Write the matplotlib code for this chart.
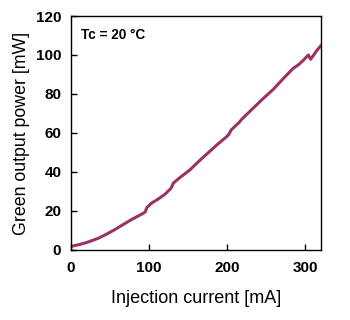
import matplotlib

matplotlib.rcParams['font.family'] = 'Liberation Sans'
matplotlib.rcParams['font.size'] = 10

import matplotlib.pyplot as plt

# values
current = [0, 10, 20, 35, 45, 56, 65, 78, 92.5, 95, 97, 103, 112, 120,
           128, 131, 140, 152, 165, 186.5, 199, 202, 205, 215, 218.5,
           244, 259, 272, 284.6, 291, 298, 303.8, 306.8, 309, 314.5, 320]
power = [1.8, 2.7, 3.8, 6.0, 8.0, 10.4, 12.6, 15.7, 18.8, 19.5, 21.7,
         24.0, 26.2, 28.5, 31.6, 34.3, 37.3, 41.0, 46.0, 53.8, 58.0,
         59.3, 61.5, 65.3, 67.0, 76.9, 82.4, 88.0, 93.2, 94.9, 97.5,
         100.0, 97.8, 99.0, 102.2, 104.8]

x_ticks = [0, 100, 200, 300]
y_ticks = [0, 20, 40, 60, 80, 100, 120]

fig = plt.figure(figsize=(3.5, 3.2), dpi=100)
ax = fig.add_axes([0.203, 0.219, 0.714, 0.731])

ax.plot(current, power, color='#993366', linewidth=2.2)

ax.set_xlim(0, 320)
ax.set_ylim(0, 120)
ax.set_xticks(x_ticks)
ax.set_yticks(y_ticks)
ax.tick_params(direction='in', length=4, width=1, labelsize=11, pad=8)
ax.tick_params(axis='y', pad=7)
for lbl in ax.get_xticklabels() + ax.get_yticklabels():
    lbl.set_fontweight('bold')
for s in ax.spines.values():
    s.set_linewidth(1)

ax.set_xlabel("Injection current [mA]", fontsize=13, labelpad=11)
ax.set_ylabel("Green output power [mW]", fontsize=12.8, labelpad=4)

ax.text(13, 110, "Tc = 20 \u00b0C", fontsize=9.8, fontweight='bold',
        va='center', ha='left')

fig.savefig("out.png", dpi=100)
